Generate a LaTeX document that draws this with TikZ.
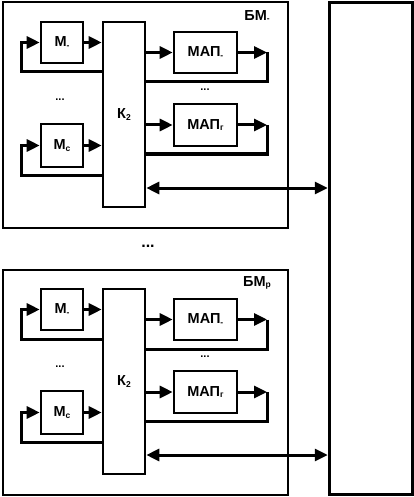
\documentclass[tikz,border=0pt]{standalone}
\usepackage{fontspec}
\setmainfont{Liberation Sans}
\usetikzlibrary{arrows.meta}
\tikzset{
 blk/.style={draw, line width=2.6pt, inner sep=0pt, font=\bfseries\fontsize{14.5}{14.5}\selectfont},
 outerbox/.style={draw, line width=2pt, inner sep=0pt},
 lbl/.style={inner sep=0pt, font=\bfseries\fontsize{14.5}{14.5}\selectfont},
 arr/.style={line width=3pt, -{Triangle[length=13pt,width=12pt]}},
 fb/.style={line width=3pt},
 dbl/.style={line width=3pt, {Triangle[length=13pt,width=12pt]}-{Triangle[length=13pt,width=12pt]}},
 dots/.style={inner sep=0pt, font=\bfseries\fontsize{11}{11}\selectfont},
}
\newcommand{\mysub}[1]{\raisebox{-1.5pt}{\fontsize{8.5}{8.5}\selectfont #1}}
\begin{document}
\begin{tikzpicture}[x=1pt,y=-1pt]
\useasboundingbox (0,0) rectangle (414,497);
\node[draw, line width=3.5pt, minimum width=83pt, minimum height=492pt, inner sep=0pt] (bus) at (371,248.5) {};
\foreach \o/\p/\s in {0/a/-, 267/b/р} {
 \begin{scope}[yshift=-\o pt]
 \node[outerbox, minimum width=285pt, minimum height=225pt] (\p box) at (145,115) {};
 \node[lbl] (\p lbl) at (257,16) {БМ\mysub{\s}};
 \node[blk, minimum width=42pt, minimum height=41pt] (\p m1) at (62,42.5) {М\mysub{-}};
 \node[blk, minimum width=42pt, minimum height=43pt] (\p mc) at (62,145.5) {М\mysub{с}};
 \node[blk, minimum width=42pt, minimum height=185pt] (\p k) at (124,114.5) {К\mysub{2}};
 \node[blk, minimum width=63pt, minimum height=41pt] (\p p1) at (205.5,52.5) {МАП\mysub{-}};
 \node[blk, minimum width=63pt, minimum height=42pt] (\p pr) at (205.5,125) {МАП\mysub{г}};
 \node[dots] (\p dl) at (60,100) {...};
 \node[dots] (\p dr) at (205,90) {...};
 \coordinate (\p f1) at (21,72);
 \coordinate (\p fc) at (21,175);
 \coordinate (\p o1) at (267,82);
 \coordinate (\p or) at (267,154);
 \coordinate (\p d) at (200,188);
 \draw[arr] (\p m1.east) -- (\p m1.east -| \p k.west);
 \draw[arr] (\p mc.east) -- (\p mc.east -| \p k.west);
 \draw[arr] (\p f1 -| \p k.west) -- (\p f1) |- (\p m1.west);
 \draw[arr] (\p fc -| \p k.west) -- (\p fc) |- (\p mc.west);
 \draw[arr] (\p k.east |- \p p1.west) -- (\p p1.west);
 \draw[arr] (\p k.east |- \p pr.west) -- (\p pr.west);
 \draw[arr] (\p p1.east) -- (\p p1.east -| \p o1);
 \draw[arr] (\p pr.east) -- (\p pr.east -| \p or);
 \draw[fb] (\p p1.east -| \p o1) -- (\p o1) -- (\p o1 -| \p k.east);
 \draw[fb] (\p pr.east -| \p or) -- (\p or) -- (\p or -| \p k.east);
 \draw[dbl] (\p d -| \p k.east) -- (\p d -| bus.west);
 \end{scope}
}
\node[inner sep=0pt, font=\bfseries\fontsize{16}{16}\selectfont] (mid) at (148,246) {...};
\end{tikzpicture}
\end{document}
